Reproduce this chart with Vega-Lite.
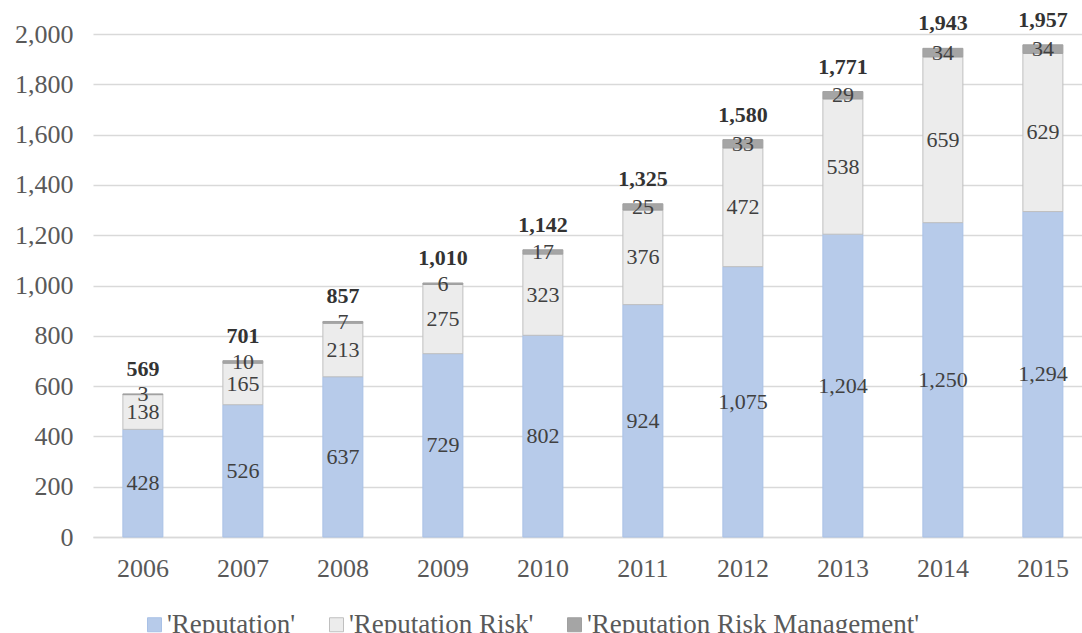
{
  "$schema": "https://vega.github.io/schema/vega-lite/v6.json",
  "width": 989,
  "height": 503,
  "autosize": {"type": "none"},
  "padding": {"left": 93, "top": 34, "right": 0, "bottom": 96},
  "background": "white",
  "config": {
    "font": "Liberation Serif",
    "view": {"stroke": null}
  },
  "data": {
    "values": [
      {"year": "2006", "series": "'Reputation'", "count": 428},
      {"year": "2006", "series": "'Reputation Risk'", "count": 138},
      {"year": "2006", "series": "'Reputation Risk Management'", "count": 3},
      {"year": "2007", "series": "'Reputation'", "count": 526},
      {"year": "2007", "series": "'Reputation Risk'", "count": 165},
      {"year": "2007", "series": "'Reputation Risk Management'", "count": 10},
      {"year": "2008", "series": "'Reputation'", "count": 637},
      {"year": "2008", "series": "'Reputation Risk'", "count": 213},
      {"year": "2008", "series": "'Reputation Risk Management'", "count": 7},
      {"year": "2009", "series": "'Reputation'", "count": 729},
      {"year": "2009", "series": "'Reputation Risk'", "count": 275},
      {"year": "2009", "series": "'Reputation Risk Management'", "count": 6},
      {"year": "2010", "series": "'Reputation'", "count": 802},
      {"year": "2010", "series": "'Reputation Risk'", "count": 323},
      {"year": "2010", "series": "'Reputation Risk Management'", "count": 17},
      {"year": "2011", "series": "'Reputation'", "count": 924},
      {"year": "2011", "series": "'Reputation Risk'", "count": 376},
      {"year": "2011", "series": "'Reputation Risk Management'", "count": 25},
      {"year": "2012", "series": "'Reputation'", "count": 1075},
      {"year": "2012", "series": "'Reputation Risk'", "count": 472},
      {"year": "2012", "series": "'Reputation Risk Management'", "count": 33},
      {"year": "2013", "series": "'Reputation'", "count": 1204},
      {"year": "2013", "series": "'Reputation Risk'", "count": 538},
      {"year": "2013", "series": "'Reputation Risk Management'", "count": 29},
      {"year": "2014", "series": "'Reputation'", "count": 1250},
      {"year": "2014", "series": "'Reputation Risk'", "count": 659},
      {"year": "2014", "series": "'Reputation Risk Management'", "count": 34},
      {"year": "2015", "series": "'Reputation'", "count": 1294},
      {"year": "2015", "series": "'Reputation Risk'", "count": 629},
      {"year": "2015", "series": "'Reputation Risk Management'", "count": 34}
    ]
  },
  "encoding": {
    "x": {
      "field": "year",
      "type": "ordinal",
      "title": null,
      "scale": {"paddingInner": 0.6, "paddingOuter": 0.245, "align": 0.61},
      "axis": {
        "labelAngle": 0,
        "labelFontSize": 26,
        "labelColor": "#595959",
        "labelPadding": 18,
        "ticks": false,
        "domainColor": "#d9d9d9",
        "domainWidth": 1.5
      }
    }
  },
  "layer": [
    {
      "mark": {"type": "bar", "strokeWidth": 1},
      "encoding": {
        "y": {
          "field": "count",
          "type": "quantitative",
          "stack": "zero",
          "title": null,
          "scale": {"domain": [0, 2000], "nice": false},
          "axis": {
            "values": [0, 200, 400, 600, 800, 1000, 1200, 1400, 1600, 1800, 2000],
            "format": ",d",
            "labelFontSize": 26,
            "labelColor": "#595959",
            "labelPadding": 20,
            "ticks": false,
            "domain": false,
            "gridColor": "#d9d9d9",
            "gridWidth": 1.5
          }
        },
        "color": {
          "field": "series",
          "type": "nominal",
          "title": null,
          "scale": {
            "domain": ["'Reputation'", "'Reputation Risk'", "'Reputation Risk Management'"],
            "range": ["#b7cbea", "#ececec", "#a5a5a5"]
          },
          "legend": {
            "orient": "none",
            "direction": "horizontal",
            "legendX": 48,
            "legendY": 577,
            "symbolType": "square",
            "symbolSize": 196,
            "symbolStrokeWidth": 1,
            "labelFontSize": 27,
            "labelColor": "#595959",
            "labelOffset": -1,
            "columnPadding": 27,
            "labelLimit": 500
          }
        },
        "stroke": {
          "field": "series",
          "type": "nominal",
          "title": null,
          "scale": {
            "domain": ["'Reputation'", "'Reputation Risk'", "'Reputation Risk Management'"],
            "range": ["#a9c1e6", "#bfbfbf", "#a0a0a0"]
          },
          "legend": {
            "orient": "none",
            "direction": "horizontal",
            "legendX": 48,
            "legendY": 577,
            "symbolType": "square",
            "symbolSize": 196,
            "symbolStrokeWidth": 1,
            "labelFontSize": 27,
            "labelColor": "#595959",
            "labelOffset": -1,
            "columnPadding": 27,
            "labelLimit": 500
          }
        }
      }
    },
    {
      "transform": [
        {"stack": "count", "groupby": ["year"], "sort": [{"field": "series", "order": "descending"}], "as": ["lo", "hi"]},
        {"calculate": "(datum.lo + datum.hi) / 2", "as": "mid"}
      ],
      "mark": {"type": "text", "fontSize": 22, "color": "#404040", "baseline": "middle"},
      "encoding": {
        "y": {"field": "mid", "type": "quantitative"},
        "text": {"field": "count", "type": "quantitative", "format": ","}
      }
    },
    {
      "transform": [
        {"aggregate": [{"op": "sum", "field": "count", "as": "total"}], "groupby": ["year"]}
      ],
      "mark": {"type": "text", "fontSize": 22, "fontWeight": "bold", "color": "#333333", "baseline": "middle", "dy": -25},
      "encoding": {
        "y": {"field": "total", "type": "quantitative"},
        "text": {"field": "total", "type": "quantitative", "format": ","}
      }
    }
  ]
}
